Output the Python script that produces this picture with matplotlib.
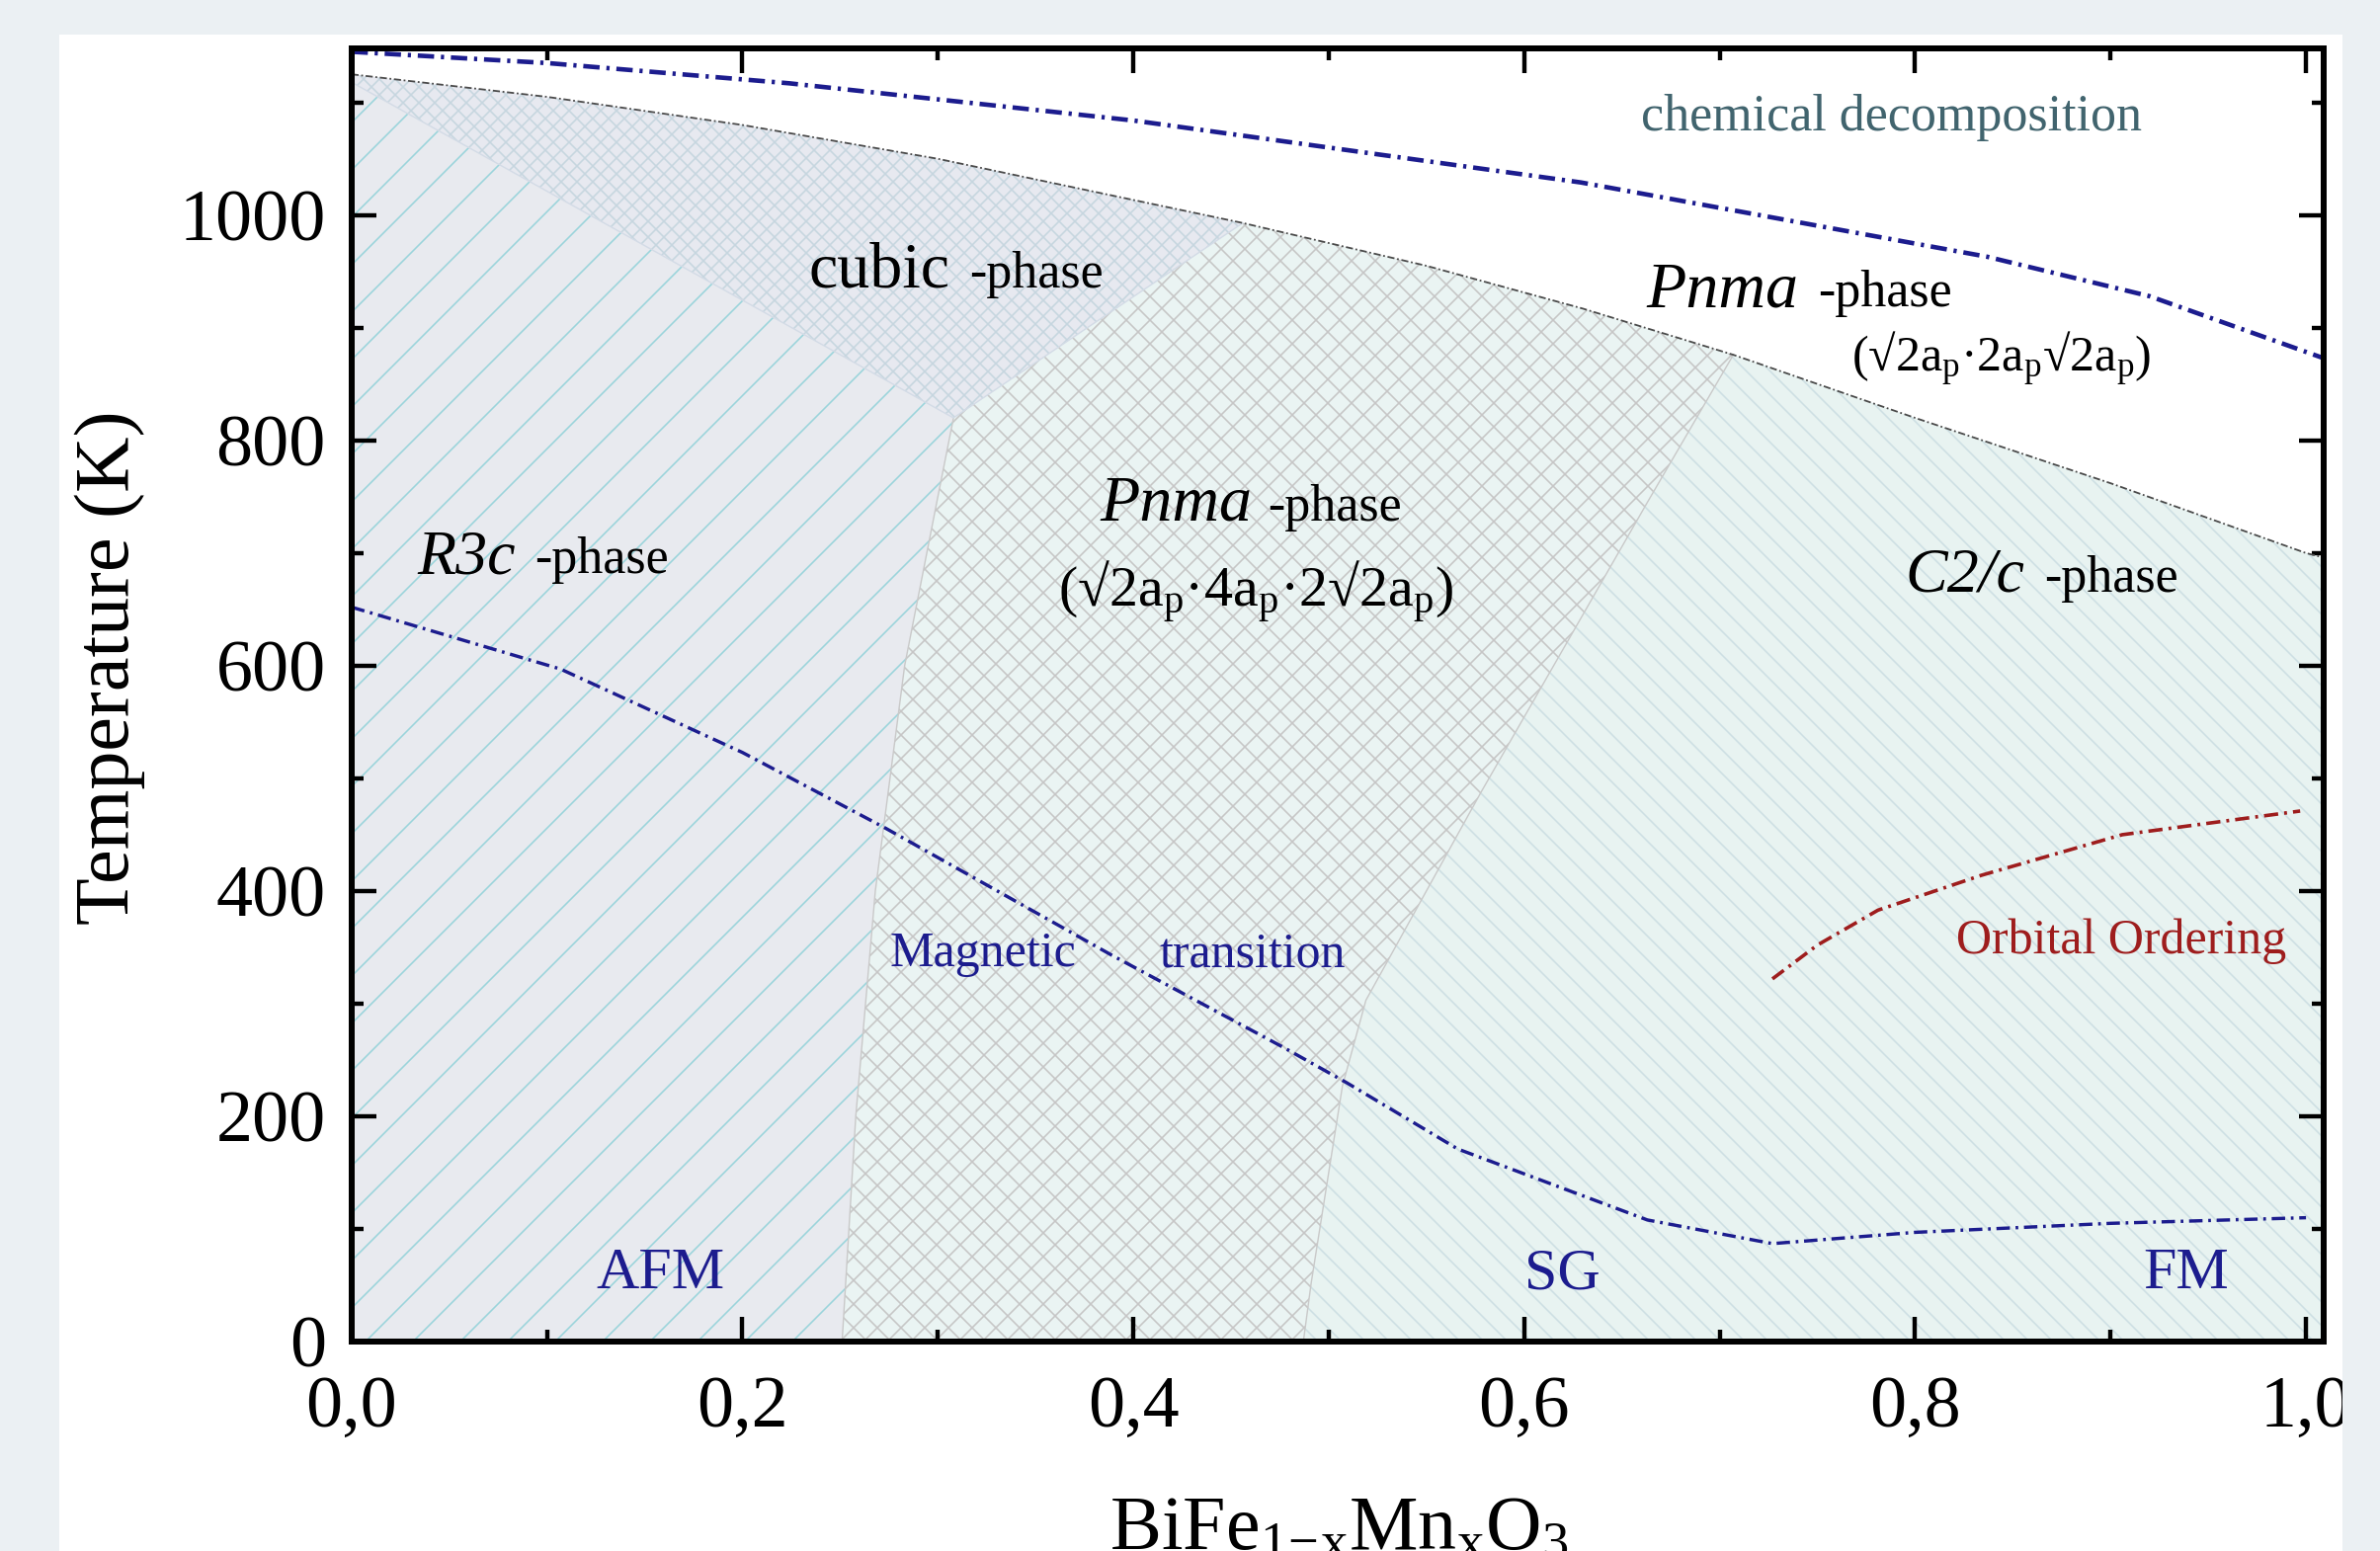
import matplotlib

matplotlib.use("Agg")

import matplotlib.pyplot as plt
from matplotlib.patches import Rectangle


# phase boundaries (x = Mn content, T in K)
UPPER_X = [0.0, 0.1, 0.2, 0.3, 0.456, 0.55, 0.63, 0.707, 0.8, 0.9, 1.0, 1.009]
UPPER_T = [1125, 1105, 1080, 1050, 993, 955, 917, 876, 820, 762, 700, 696]

R3C_PNMA_X = [0.251, 0.258, 0.268, 0.283, 0.300, 0.308]
R3C_PNMA_T = [0, 200, 400, 600, 750, 820]
R3C_CUBIC_LEFT_T = 1118

PNMA_C2C_X = [0.487, 0.491, 0.507, 0.519, 0.578, 0.663, 0.707]
PNMA_C2C_T = [0, 52, 227, 303, 488, 745, 876]

# transition lines
CHEM_X = [0.0, 0.1, 0.224, 0.4, 0.629, 0.837, 0.92, 1.009]
CHEM_T = [1145, 1135, 1117, 1084, 1029, 963, 928, 873]

MAG_X = [0.0, 0.107, 0.2, 0.273, 0.389, 0.477, 0.509, 0.566, 0.663, 0.727, 0.8, 0.9, 1.0]
MAG_T = [652, 597, 523, 456, 343, 261, 230, 171, 108, 87, 97, 105, 110]

ORB_X = [0.727, 0.75, 0.781, 0.834, 0.906, 0.997]
ORB_T = [322, 352, 383, 414, 450, 471]

X_TICKS = [0.0, 0.2, 0.4, 0.6, 0.8, 1.0]
X_TICKLABELS = ["0,0", "0,2", "0,4", "0,6", "0,8", "1,0"]
X_MINOR = [0.1, 0.3, 0.5, 0.7, 0.9]
Y_TICKS = [0, 200, 400, 600, 800, 1000]
Y_MINOR = [100, 300, 500, 700, 900, 1100]

NAVY = "#1c1c8e"
DARK_RED = "#9e1d1d"
PAGE_GRAY = "#ebf0f3"

plt.rcParams["font.family"] = ["Liberation Serif", "DejaVu Serif"]
plt.rcParams["mathtext.fontset"] = "custom"
plt.rcParams["mathtext.rm"] = "Liberation Serif"
plt.rcParams["mathtext.it"] = "Liberation Serif:italic"
plt.rcParams["hatch.linewidth"] = 0.8

DPI = 144
fig = plt.figure(figsize=(2409 / DPI, 1570 / DPI), dpi=DPI, facecolor="white")
ax = fig.add_axes([0.1477, 0.135, 0.9763 - 0.1477, 0.9688 - 0.135])
ax.set_xlim(0, 1.009)
ax.set_ylim(0, 1148)

i_cub = UPPER_X.index(0.456)
i_c2c = UPPER_X.index(0.707)
corner_x, corner_T = R3C_PNMA_X[-1], R3C_PNMA_T[-1]

# R3c region
r3c_x = [0.0] + R3C_PNMA_X + [0.0]
r3c_T = [0] + R3C_PNMA_T + [R3C_CUBIC_LEFT_T]
ax.fill(r3c_x, r3c_T, facecolor="#e8eaef", edgecolor="#9ad4db", hatch="/", lw=0, zorder=1)

# cubic region
cub_x = UPPER_X[: i_cub + 1] + [corner_x, 0.0]
cub_T = UPPER_T[: i_cub + 1] + [corner_T, R3C_CUBIC_LEFT_T]
ax.fill(cub_x, cub_T, facecolor="#e7e9f0", edgecolor="#c6d6df", hatch="xxx", lw=0, zorder=1)

# Pnma region
pn_x = R3C_PNMA_X + UPPER_X[i_cub : i_c2c + 1] + PNMA_C2C_X[::-1]
pn_T = R3C_PNMA_T + UPPER_T[i_cub : i_c2c + 1] + PNMA_C2C_T[::-1]
ax.fill(pn_x, pn_T, facecolor="#eaf4f3", edgecolor="#c6c6c6", hatch="xx", lw=0, zorder=1)

# C2/c region
c2_x = PNMA_C2C_X + UPPER_X[i_c2c:] + [UPPER_X[-1]]
c2_T = PNMA_C2C_T + UPPER_T[i_c2c:] + [0]
ax.fill(c2_x, c2_T, facecolor="#e8f3f1", edgecolor="#cddfe3", hatch="\\\\", lw=0, zorder=1)

# thin boundaries between phases
bcol = "#c9c9c9"
ax.plot(R3C_PNMA_X, R3C_PNMA_T, color=bcol, lw=0.7, zorder=2)
ax.plot(PNMA_C2C_X, PNMA_C2C_T, color=bcol, lw=0.7, zorder=2)
ax.plot([0.0, corner_x, UPPER_X[i_cub]], [R3C_CUBIC_LEFT_T, corner_T, UPPER_T[i_cub]],
        color="#d3dbe6", lw=0.7, zorder=2)
ax.plot(UPPER_X, UPPER_T, color="#4a4a4a", lw=0.9, ls=(0, (4, 1.5, 1, 1.5)), zorder=3)

ax.plot(CHEM_X, CHEM_T, color=NAVY, lw=2.3, ls=(0, (3.6, 1.5, 0.7, 1.5)), zorder=3)
ax.plot(MAG_X, MAG_T, color=NAVY, lw=1.7, ls=(0, (4.0, 1.7, 0.8, 1.7)), zorder=3)
ax.plot(ORB_X, ORB_T, color=DARK_RED, lw=1.8, ls=(0, (4.0, 1.7, 0.8, 1.7)), zorder=3)

# labels inside the diagram
ax.text(0.788, 1087, "chemical decomposition", fontsize=26, color="#41646e",
        ha="center", va="center", zorder=4)

ax.text(0.234, 936, "cubic", fontsize=33, ha="left", va="baseline", zorder=4)
ax.text(0.316, 936, "-phase", fontsize=26, ha="left", va="baseline", zorder=4)

ax.text(0.0337, 682, "R3c", fontsize=32, style="italic", ha="left", va="baseline", zorder=4)
ax.text(0.0935, 682, "-phase", fontsize=26, ha="left", va="baseline", zorder=4)

ax.text(0.383, 729, "Pnma", fontsize=33, style="italic", ha="left", va="baseline", zorder=4)
ax.text(0.4686, 729, "-phase", fontsize=26, ha="left", va="baseline", zorder=4)
ax.text(0.4628, 652, r"$\mathregular{(√2a_p·4a_p·2√2a_p)}$", fontsize=29,
        ha="center", va="baseline", zorder=4)

ax.text(0.6627, 919, "Pnma", fontsize=33, style="italic", ha="left", va="baseline", zorder=4)
ax.text(0.7504, 919, "-phase", fontsize=26, ha="left", va="baseline", zorder=4)
ax.text(0.844, 861, r"$\mathregular{(√2a_p·2a_p√2a_p)}$", fontsize=25,
        ha="center", va="baseline", zorder=4)

ax.text(0.7947, 666, "C2/c", fontsize=32, style="italic", ha="left", va="baseline", zorder=4)
ax.text(0.866, 666, "-phase", fontsize=26, ha="left", va="baseline", zorder=4)

ax.text(0.323, 333, "Magnetic", fontsize=25, color=NAVY, ha="center", va="baseline", zorder=4)
ax.text(0.4608, 333, "transition", fontsize=25, color=NAVY, ha="center", va="baseline", zorder=4)
ax.text(0.9054, 345, "Orbital Ordering", fontsize=25, color=DARK_RED,
        ha="center", va="baseline", zorder=4)

for xx, lab in [(0.158, "AFM"), (0.6196, "SG"), (0.9388, "FM")]:
    ax.text(xx, 47, lab, fontsize=30, color=NAVY, ha="center", va="baseline", zorder=4)

# axes styling
ax.set_xticks(X_TICKS)
ax.set_xticklabels(X_TICKLABELS)
ax.set_xticks(X_MINOR, minor=True)
ax.set_yticks(Y_TICKS)
ax.set_yticks(Y_MINOR, minor=True)
ax.tick_params(which="both", direction="in", top=True, right=True, width=2.2, color="black")
ax.tick_params(which="major", length=12.5, labelsize=37)
ax.tick_params(axis="x", which="major", pad=17)
ax.tick_params(axis="y", which="major", pad=13)
ax.tick_params(which="minor", length=6)
for sp in ax.spines.values():
    sp.set_linewidth(3)
    sp.set_zorder(5)

fig.text(0.046, 0.5694, "Temperature (K)", fontsize=39, rotation=90, ha="center", va="center")
fig.text(0.5625, 0.001, r"BiFe$_{\mathrm{1\!-\!x}}$Mn$_{\mathrm{x}}$O$_{\mathrm{3}}$", fontsize=39,
         ha="center", va="baseline")

# page background around the cropped figure
for rect in [(0, 0.9777, 1, 0.0223), (0, 0, 0.0249, 1), (0.9842, 0, 0.0158, 1)]:
    fig.add_artist(Rectangle(rect[:2], rect[2], rect[3], transform=fig.transFigure,
                             facecolor=PAGE_GRAY, edgecolor="none", zorder=10))

fig.savefig("out.png", dpi=DPI, facecolor="white")
